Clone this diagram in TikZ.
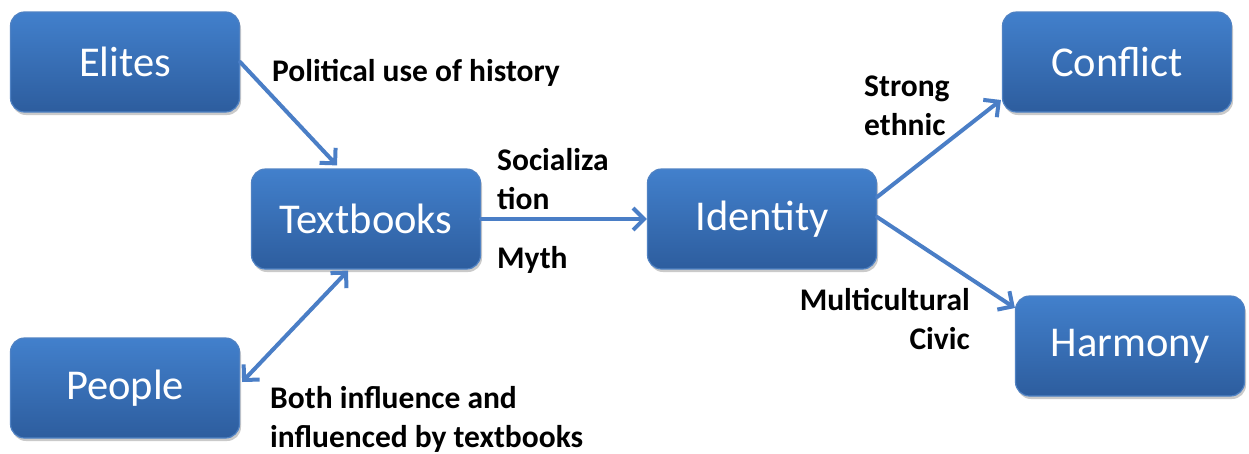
\documentclass[tikz,border=0pt]{standalone}
\usepackage{fontspec}
\usetikzlibrary{arrows.meta,calc,shadows}
\newfontfamily\boxfont{Carlito}
\newfontfamily\labelfont[BoldFont={Carlito Bold}]{Carlito}
\definecolor{boxtop}{RGB}{66,128,204}
\definecolor{boxbottom}{RGB}{45,93,158}
\definecolor{boxedge}{RGB}{80,130,195}
\definecolor{arrowblue}{RGB}{74,126,198}
\tikzset{
  box/.style={rounded corners=14pt, minimum width=229pt, minimum height=100pt,
    top color=boxtop, bottom color=boxbottom, draw=boxedge, line width=1.2pt,
    text=white, font=\boxfont\fontsize{42.5}{48}\selectfont,
    drop shadow={opacity=0.35, shadow xshift=1.5pt, shadow yshift=-3pt, fill=black!60}},
  barb/.tip={Straight Barb[length=11pt, width=22pt, line width=4pt]},
  conn/.style={draw=arrowblue, line width=4pt, line cap=round, -barb},
  lbl/.style={font=\labelfont\bfseries\fontsize{31.5}{39}\selectfont, text=black, inner sep=0pt},
}
\begin{document}
\begin{tikzpicture}[x=1pt, y=-1pt]
  \useasboundingbox (0,0) rectangle (1249,453);
  % boxes
  \node[box] (elites)    at (125,62)   {Elites};
  \node[box] (textbooks) at (366,219)  {Textbooks};
  \node[box] (people)    at (125,388)  {People};
  \node[box] (identity)  at (762,219)  {Identity};
  \node[box] (conflict)  at (1117,62)  {Conflict};
  \node[box] (harmony)   at (1130,346) {Harmony};

  % connectors
  \draw[conn] (elites.east) -- ($(textbooks.north)+(-29,-3)$);
  \draw[conn, barb-barb] ($(people.east)+(2,-6)$) -- ($(textbooks.south)+(-18,1)$);
  \draw[conn] (textbooks.east) -- (identity.west);
  \draw[conn] ($(identity.east)+(0,-22)$) -- ($(conflict.west)+(-1,38)$);
  \draw[conn] ($(identity.east)+(0,-2)$) -- ($(harmony.west)+(0,-38)$);

  % labels
  \node[lbl, anchor=west] (l1) at (272,73) {Political use of history};
  \node[lbl, anchor=north west, align=left] (l2) at (497,148) {Socializa\\tion};
  \node[lbl, anchor=west] (l3) at (497,260) {Myth};
  \node[lbl, anchor=north west, align=left] (l4) at (864,76) {Strong\\ethnic};
  \node[lbl, anchor=north east, align=right] (l5) at (970,288) {Multicultural\\Civic};
  \node[lbl, anchor=north west, align=left] (l6) at (270,386) {Both influence and\\influenced by textbooks};
\end{tikzpicture}
\end{document}
